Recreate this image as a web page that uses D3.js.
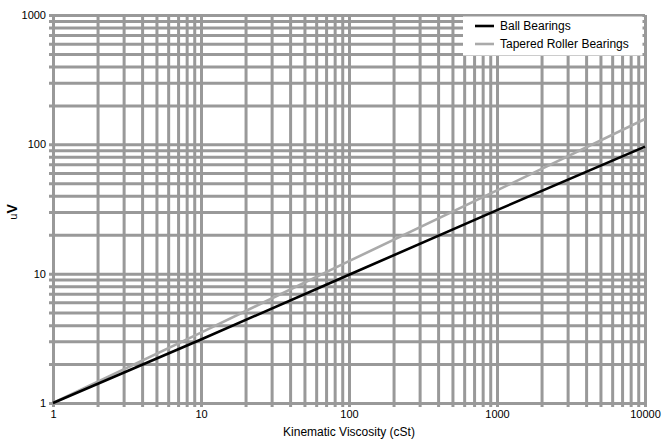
<!DOCTYPE html>
<html>
<head>
<meta charset="utf-8">
<script src="https://cdn.jsdelivr.net/npm/d3@7"></script>
<style>
  html, body { margin: 0; padding: 0; background: #fff; }
  svg text { font-family: "Liberation Sans Narrow", "Arial Narrow", "Liberation Sans", sans-serif; fill: #000; }
</style>
</head>
<body>
<svg id="chart" width="662" height="441"></svg>
<script>
// ---- data ----
const viscosity = [1, 10, 100, 1000, 10000];
const ballBearings = [1, 3.1, 9.8, 31, 96];
const taperedRollerBearings = [1, 3.5, 12.5, 44, 157];
const seriesNames = ["Ball Bearings", "Tapered Roller Bearings"];
const xTickLabels = [1, 10, 100, 1000, 10000];
const yTickLabels = [1, 10, 100, 1000];

const W = 662, H = 441;
const margin = { left: 53, right: 17, top: 15, bottom: 38 };
const iw = W - margin.left - margin.right;
const ih = H - margin.top - margin.bottom;

const svg = d3.select("#chart");
const g = svg.append("g").attr("transform", `translate(${margin.left},${margin.top})`);

const x = d3.scaleLog().domain([1, 10000]).range([0, iw]);
const y = d3.scaleLog().domain([1, 1000]).range([ih, 0]);

const gridColor = "#999";
const gridW = 3;

const xAxis = d3.axisBottom(x)
  .tickValues(x.ticks())
  .tickSizeInner(-ih).tickSizeOuter(0)
  .tickPadding(7)
  .tickFormat(d => xTickLabels.includes(d) ? String(d) : "");
const gx = g.append("g").attr("transform", `translate(0,${ih})`).call(xAxis);
gx.select(".domain").remove();
gx.selectAll(".tick line").attr("stroke", gridColor).attr("stroke-width", gridW).attr("y1", 4);
gx.selectAll(".tick text").attr("font-size", 11).attr("font-family", null);

const yAxis = d3.axisLeft(y)
  .tickValues(y.ticks())
  .tickSizeInner(-iw).tickSizeOuter(0)
  .tickPadding(7)
  .tickFormat(d => yTickLabels.includes(d) ? String(d) : "");
const gy = g.append("g").call(yAxis);
gy.select(".domain").remove();
gy.selectAll(".tick line").attr("stroke", gridColor).attr("stroke-width", gridW).attr("x1", -4);
gy.selectAll(".tick text").attr("font-size", 11).attr("font-family", null);

// lines
const line = d3.line().x((d, i) => x(viscosity[i])).y(d => y(d));
g.append("path").datum(taperedRollerBearings).attr("d", line)
  .attr("fill", "none").attr("stroke", "#aaa").attr("stroke-width", 2.6);
g.append("path").datum(ballBearings).attr("d", line)
  .attr("fill", "none").attr("stroke", "#000").attr("stroke-width", 2.6);

// legend
const lg = svg.append("g");
lg.append("rect").attr("x", 463).attr("y", margin.top + 1.5).attr("width", 644 - 463 - 1.5).attr("height", 39)
  .attr("fill", "#fff");
const legendColors = ["#000", "#aaa"];
seriesNames.forEach((name, i) => {
  const yy = 26 + i * 18;
  lg.append("line").attr("x1", 475).attr("x2", 494).attr("y1", yy).attr("y2", yy)
    .attr("stroke", legendColors[i]).attr("stroke-width", 2.6);
  lg.append("text").attr("x", 500).attr("y", yy + 4).attr("font-size", 12).text(name);
});

// axis titles
svg.append("text").attr("x", margin.left + iw / 2).attr("y", 436)
  .attr("text-anchor", "middle").attr("font-size", 12).text("Kinematic Viscosity (cSt)");

const yl = svg.append("text").attr("transform", "translate(17,212) rotate(-90)")
  .attr("text-anchor", "middle");
yl.append("tspan").attr("font-size", 11).text("u");
yl.append("tspan").attr("font-size", 14).attr("font-weight", "bold").text("V");
</script>
</body>
</html>
